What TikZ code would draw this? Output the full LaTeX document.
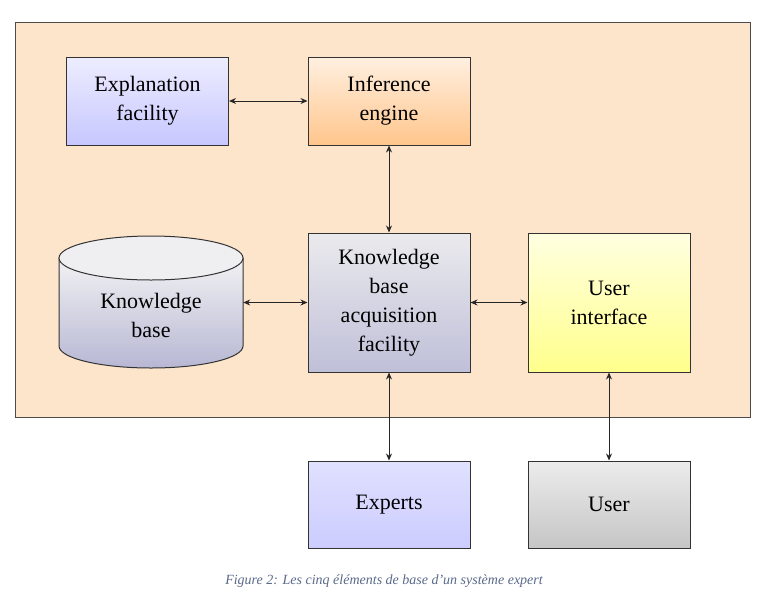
\documentclass[tikz,border=0pt]{standalone}
\usepackage{fontspec}
\setmainfont{Liberation Serif}
\usetikzlibrary{arrows.meta}
\definecolor{peach}{HTML}{FDE5CC}
\definecolor{cap}{HTML}{5A6A8A}
\tikzset{
 box/.style={draw=black!80,line width=1pt,minimum width=162pt,minimum height=88pt,align=center,font=\fontsize{22}{29}\selectfont,inner sep=0pt},
 conn/.style={{Stealth[length=7pt,width=6pt]}-{Stealth[length=7pt,width=6pt]},line width=1pt,black!85},
}
\begin{document}
\begin{tikzpicture}[x=1pt,y=-1pt]
\useasboundingbox (0,0) rectangle (768,603);
\fill[white] (0,0) rectangle (768,603);
\draw[fill=peach,draw=black!70,line width=1pt] (15,22) rectangle (750,417);
\node[box,top color=blue!7!white,bottom color=blue!22!white] (expl) at (147.5,101) {Explanation\\facility};
\node[box,top color=orange!12!white,bottom color=orange!45!white] (inf) at (389,101) {Inference\\engine};
\node[box,minimum height=139pt,top color=blue!8!gray!15,bottom color=blue!25!gray!40] (kba) at (389,302.5) {Knowledge\\base\\acquisition\\facility};
\node[box,minimum height=139pt,top color=yellow!12!white,bottom color=yellow!45!white] (ui) at (609,302.5) {User\\interface};
\node[box,minimum height=87pt,top color=blue!12!white,bottom color=blue!20!white] (exp) at (389,504.5) {Experts};
\node[box,minimum height=87pt,top color=gray!15,bottom color=gray!45] (user) at (609,504.5) {User};
% cylinder
\draw[black!80,line width=1pt,top color=blue!6!gray!10,bottom color=blue!25!gray!45]
 (59,258) -- (59,346) arc[start angle=180,end angle=0,x radius=92,y radius=22] -- (243,258) -- cycle;
\draw[black!80,line width=1pt,fill=blue!6!gray!12] (151,258) ellipse[x radius=92,y radius=22];
\node[font=\fontsize{22}{29}\selectfont,align=center,minimum width=184pt,inner sep=0pt] (kb) at (151,315) {Knowledge\\base};
\draw[conn] (expl) -- (inf);
\draw[conn] (inf) -- (kba);
\draw[conn] (kb.east|-kba) -- (kba.west);
\draw[conn] (kba) -- (ui);
\draw[conn] (kba) -- (exp);
\draw[conn] (ui) -- (user);
\node[font=\itshape\fontsize{14}{16}\selectfont,text=cap] (caption) at (384,581) {Figure 2: Les cinq éléments de base d'un système expert};
\end{tikzpicture}
\end{document}
